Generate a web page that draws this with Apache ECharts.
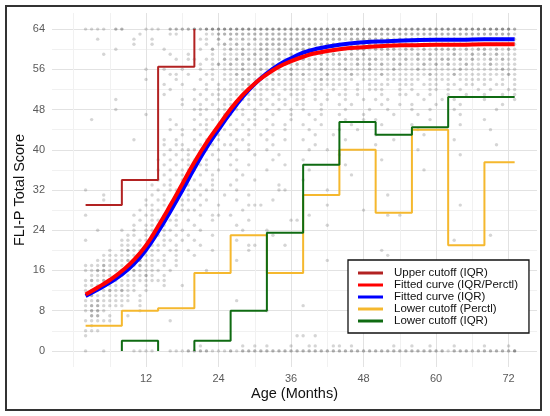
<!DOCTYPE html>
<html>
<head>
<meta charset="utf-8">
<title>FLI-P Total Score by age</title>
<script src="https://cdn.jsdelivr.net/npm/echarts@6/dist/echarts.min.js"></script>
<style>
	html, body { margin: 0; padding: 0; background: #fff; }
	#chart { width: 550px; height: 416px; }
</style>
</head>
<body>
<div id="chart"></div>
<script>
// axis ticks
var xTicks = [12, 24, 36, 48, 60, 72];
var xGrid = [0, 6, 12, 18, 24, 30, 36, 42, 48, 54, 60, 66, 72];
var yTicks = [0, 8, 16, 24, 32, 40, 48, 56, 64];
var yGrid = [0, 4, 8, 12, 16, 20, 24, 28, 32, 36, 40, 44, 48, 52, 56, 60, 64];

// cutoff bins (months), one value per bin, null = out of range
var binEdges = [2, 8, 14, 20, 26, 32, 38, 44, 50, 56, 62, 68, 73];
var upperIQR = [29, 34, 56.5, null, null, null, null, null, null, null, null, null];
var lowerPerctl = [5, 8, 8.5, 15.5, 23, 15.5, 31, 40, 27.5, 44, 21, 37.5];
var lowerIQR = [null, 2, null, 2, 8, 23.5, 37, 45.5, 43, 44.5, 50.5, 50.5];

// fitted curves
var fitAges = [2, 4, 6, 8, 10, 12, 14, 16, 18, 20, 22, 24, 26, 28, 30, 32, 34, 36, 38, 40, 44, 48, 52, 56, 60, 64, 68, 73];
var fitBoth = [11.2, 12.6, 14.1, 15.9, 18.1, 21.0, 24.8, 28.9, 33.2, 37.5, 41.4, 44.8, 48.1, 50.9, 53.2, 55.0, 56.5, 57.6, 58.5, 59.2, 60.0, 60.4, 60.7, 60.8, 60.9, 60.9, 61.0, 61.0];
var fitIQR = [10.9, 12.2, 13.6, 15.2, 17.3, 20.1, 23.7, 27.7, 31.9, 36.3, 40.4, 44.0, 47.4, 50.5, 53.1, 55.2, 56.9, 58.2, 59.3, 60.0, 60.9, 61.4, 61.6, 61.8, 61.9, 61.9, 62.0, 62.0];

// observed scores: one row per score (64 down to 0), one column per month from 2 to 73
// digit = how many children overlap on that spot
var ageStart = 2;
var scoreRows = [
	'1111.2 2...11 1.2222 323333 333333 333333 333333 333333 333333 333333 333333 333332',
	'...... ...1.. ..11.. ..1122 222222 222222 222222 222222 222222 222222 222222 222221',
	'..1... ..1..1 ...... .11.2. 212121 222222 222222 212222 222122 222222 221222 222221',
	'...... ..1..1 ...... ..1.12 121212 222212 222222 222222 212222 221222 222222 122221',
	'.....1 ...... .1.... .1.2.1 212112 212122 222212 212221 222212 212122 221212 212121',
	'...1.. ...... ..1..1 ...1.1 112121 212121 121212 212121 112121 121211 121121 212111',
	'...... ...... ...1.1 1.11.2 121212 212121 212121 121212 211212 121212 212121 121211',
	'...... ...... ...... .1.121 212121 121212 121211 211212 121121 112121 211211 121111',
	'...... ....1. .1..1. .1.1.1 112112 121121 111211 121112 111211 121111 112111 111211',
	'...... ...... ..11.1 ..11.1 121211 112121 211121 112111 121111 111211 121111 111121',
	'...... ....1. ...1.. .1.1.1 112111 121111 111211 111.11 1.1111 11.111 1.1111 11.1.1',
	'...... ...... .1..1. ..1.1. 111211 111111 1.1111 11.1.1 111.11 1.111. 11.11. 1.11.1',
	'...... ...... ..1... 1.1.11 111111 11.111 1.11.1 .1.1.1 11..1. 1..11. 1.1..1 .1..11',
	'...... ...... .1.... .1.11. 11.111 .11.11 1.1.1. 11.1.. .1..11 .1.1.. 1..1.. 1..1.1',
	'.....1 ...... ....1. 1.1.11 1.1111 1.11.1 1.1.1. .1..1. 1.1... ..1..1 .1.... 1....1',
	'...... ...... ....1. .1.1.1 11.1.1 .1.1.1 1..1.. 1.1... .1..1. 1...1. ..1... ...1..',
	'.....1 ...... ...... 111.11 .11.1. 1.1.1. 1..1.. .1...1 ..1... 1..1.. .1.... ..1...',
	'...... ....1. ...... .1..11 1.1.1. .1..1. .1.1.. 1...1. ...1.. .1.... ..1... ......',
	'.1.... ...... ..1... 1.11.1 .1.11. 1...1. ..1... .1..1. 1..... ...1.. ...... 1.....',
	'...... ...... ...1.. .11.1. 1.1.1. .1.1.. 1..1.. ..1... .1.... 1..... ..1... ......',
	'...... ...... ..1.1. 1.1.11 .1.1.. 1..1.. .1.... 1..1.. ...... .1.... ...... .1....',
	'...... ...... ....1. .1.11. 1..1.1 .1.... ..1..1 ...... 1..... ..1... ...... ......',
	'...... ..1... .1.1.. 1.1.1. .11... 1..1.. 1..... .1.... ...1.. ...... .1.... ......',
	'...... ...... .1.11. .1.1.1 1..1.. .1.... ..1... ...... 1..... ...... ...... ..1...',
	'...... ...... ..1.11 1.1.1. .1.1.. 1..... .1..1. ...... ...... .1.... ...... ......',
	'...... ...... .1.1.1 .1.1.. 1...1. ..1... ...... 1..... ...... ...... ..1... ......',
	'...... ...... 1.1.11 1.1.1. .1.... .1.... 1..... ...... .1.... ...... ...... ......',
	'...... ...... .1.1.1 .11... 1..1.. ...1.. ...... .1.... ...... ...... ...... ......',
	'...... ...... 1.1.11 1.1.1. .1.... 1..... .1.... ...... ...... ..1... ...... ......',
	'...... ...... .1.111 .1.1.. ..1... ...... ...... ..1... ...... ...... ...... ......',
	'...... ...... 1.1.1. 1..1.. .1..1. ...... 1..... ...... ...... ...... ...... ......',
	'...... .....1 .11.11 .1.1.. 1..... ..1... ...... ...... ...... ...... ...... ......',
	'1..... ...... 1.1111 1.11.. .1.... ..11.. ....1. ...... ...... ...... ...... ......',
	'...1.. .....1 .1.1.1 .1...1 ...1.. ...... ...... ...... ..1... ...... ...... ......',
	'...1.. ....1. 11.111 1.1... .1.... .1.... ...... ...... ...... ...... ...... ......',
	'...... ....11 .11.1. .1..1. ...111 ...... ....1. ...... ...... ...... ..1... ......',
	'...... ...1.1 1.1.11 1..... ..1... ...... ...... ....1. ...... ...... ...... ......',
	'1..... ..1.11 .1.1.. .1.11. 1..... ...... .1.... ...... ..1.1. ...... ...... ......',
	'...... ...1.1 1.11.1 ...1.. ...1.. ....11 ...... ...... ...... ...... ...... ......',
	'...... ..1.11 11.1.. 1..... .1.... ...... ....1. ...... ...... ...... ...... ......',
	'..1... 1.1.11 .11.1. .1.... ..1... 1..... ...... ...... ...... ...... ...... ......',
	'...... .11.11 11.1.1 ...1.. ...... .1.... ...... ...... ...... ...... ...... .1....',
	'1..... 11.111 .11.1. 1..... .1.... ...... ...... ...... ...... ...... .1.... ......',
	'...... 111111 11.1.. .1.... ...11. ...1.. ...... ...... ...... ...... ...... ......',
	'....1. 121111 1.11.1 ...1.. ...1.. ...... ...... ...... .1.... ...... ...... ......',
	'...111 111111 .1.1.. 1..... ...... ...... ...... ...... ..1... ...... ...... ......',
	'..1111 121211 11.1.. ...... .1.... ...... ....1. ...... ...... ...... ...... ......',
	'111211 111211 .1.1.. ...... ...... ...... ...... ...... ...... ...... ...... ......',
	'112211 212111 1.1... ..1... ...... ...... ...... ...... ...... ...... ...... ......',
	'.11111 111121 .1.... ...... ...... ...... ...... ...... ...... ...... ...... ......',
	'121211 111111 11.... ...... ...... ...... ...... ...... ...... ...... ...... ......',
	'111111 111.1. .1..1. ...... ...... ...... ...... ...... ...... ...... ...... ......',
	'121121 211.1. ...... ...... ...... ...... ...... ...... ...... ...... ...... ......',
	'.21111 11.1.. ...... ...... ...... ...... ...... ...... ...... ...... ...... ......',
	'112111 11.1.. ...... ...... .1.... ...... ...... ...... ...... ...... ...... ......',
	'122111 1..1.. ...... ...... ...... ...... 1..... ...... ...... ...... ...... ......',
	'1221.. ...1.. ...... ...... ...... 1..... ...... ...... ...... ...... ...... ......',
	'.22.1. .1.... ...... ...... ...... ...... ...... ...... ...... ...... ...... ......',
	'11111. ...... ..1... ...... ...... ...... ...... ...... ...... ...... ...... ......',
	'.1.... ...... ...... ...... ...... ...... ...... ...... ...... ...... ...... ......',
	'111... ...... ...... ...... ...... ...... ...... ...... ...... ...... ...... ......',
	'1..... ...... ...... ...... ...... .....1 1.1... ...... ...... ...... ...... ......',
	'...... ...... ...... ...... ...... ...... ...... ...... ...... ...... ...... ......',
	'...... ...... ...... .1.... ..1.1. 1...1. .11..1 1.1... ...1.. 1..1.. .1.... 1...1.',
	'1..1.. ..1111 ..1112 222111 212222 222222 222222 222222 222222 222222 122222 222223'
];

var FONT = 'Liberation Sans, Arial, Helvetica, sans-serif';

function buildPoints(rows, topScore, firstAge) {
	var pts = [];
	rows.forEach(function (row, r) {
		var cells = row.replace(/ /g, '');
		for (var i = 0; i < cells.length; i++) {
			var n = parseInt(cells[i], 10);
			if (n > 0) {
				pts.push([firstAge + i, topScore - r, n]);
			}
		}
	});
	return pts;
}

// turn per-bin values into a stepped path; missing bins drop to clampVal and break
function stepPath(edges, vals, clampVal) {
	var pts = [];
	for (var i = 0; i < vals.length; i++) {
		var v = vals[i];
		var prev = i > 0 ? vals[i - 1] : null;
		if (v === null) {
			if (prev !== null) {
				pts.push([edges[i], clampVal]);
				pts.push([edges[i], '-']);
			}
			continue;
		}
		if (i > 0 && prev === null) {
			pts.push([edges[i], clampVal]);
		}
		pts.push([edges[i], v]);
		pts.push([edges[i + 1], v]);
	}
	return pts;
}

function pairs(xs, ys) {
	return xs.map(function (x, i) {
		return [x, ys[i]];
	});
}

var xGridColors = xGrid.map(function (v) {
	return xTicks.indexOf(v) > -1 ? '#e2e2e2' : '#f1f1f1';
});
var yGridColors = yGrid.map(function (v) {
	return yTicks.indexOf(v) > -1 ? '#e2e2e2' : '#f1f1f1';
});

var myChart = echarts.init(document.getElementById('chart'));

var option = {
	backgroundColor: '#fff',
	animation: false,
	grid: {
		left: 52,
		right: 13,
		top: 13,
		bottom: 49
	},
	graphic: [{
		type: 'rect',
		silent: true,
		z: 100,
		shape: { x: 6, y: 6, width: 535, height: 404 },
		style: { fill: null, stroke: '#333', lineWidth: 2 }
	}],
	legend: {
		orient: 'vertical',
		left: 348,
		top: 260,
		padding: [7, 11, 6, 10],
		itemGap: 0,
		itemWidth: 25,
		itemHeight: 3,
		icon: 'rect',
		backgroundColor: '#fff',
		borderColor: '#111',
		borderWidth: 1.3,
		textStyle: {
			fontFamily: FONT,
			fontSize: 11.5,
			lineHeight: 11.7,
			color: '#111',
			padding: [0, 0, 0, 6]
		},
		data: ['Upper cutoff (IQR)', 'Fitted curve (IQR/Perctl)', 'Fitted curve (IQR)', 'Lower cutoff (Perctl)', 'Lower cutoff (IQR)']
	},
	xAxis: {
		type: 'value',
		min: -3.56,
		max: 76.7,
		name: 'Age (Months)',
		nameLocation: 'middle',
		nameGap: 19,
		nameMoveOverlap: false,
		nameTextStyle: { fontFamily: FONT, fontSize: 14.5, color: '#111' },
		axisLine: { show: false },
		axisTick: { show: false, customValues: xGrid },
		axisLabel: { customValues: xTicks, margin: 6, fontFamily: FONT, fontSize: 11, color: '#5a5a5a' },
		splitLine: { show: true, lineStyle: { color: xGridColors, width: 1 } }
	},
	yAxis: {
		type: 'value',
		min: -3.2,
		max: 67.2,
		name: 'FLI-P Total Score',
		nameLocation: 'middle',
		nameGap: 25,
		nameMoveOverlap: false,
		nameTextStyle: { fontFamily: FONT, fontSize: 14.5, color: '#111' },
		axisLine: { show: false },
		axisTick: { show: false, customValues: yGrid },
		axisLabel: { customValues: yTicks, margin: 7, fontFamily: FONT, fontSize: 11, color: '#5a5a5a' },
		splitLine: { show: true, lineStyle: { color: yGridColors, width: 1 } }
	},
	series: [
		{
			name: 'points',
			type: 'scatter',
			silent: true,
			symbolSize: 3.4,
			z: 1,
			itemStyle: {
				color: function (p) {
					var a = [0, 0.26, 0.48, 0.68][p.data[2]];
					return 'rgba(55,55,55,' + a + ')';
				}
			},
			data: buildPoints(scoreRows, 64, ageStart)
		},
		{
			name: 'Upper cutoff (IQR)',
			type: 'line',
			symbol: 'none',
			z: 3,
			color: '#b22222',
			lineStyle: { width: 2, color: '#b22222' },
			data: stepPath(binEdges, upperIQR, 64)
		},
		{
			name: 'Lower cutoff (Perctl)',
			type: 'line',
			symbol: 'none',
			z: 3,
			color: '#f5b82e',
			lineStyle: { width: 2, color: '#f5b82e' },
			data: stepPath(binEdges, lowerPerctl, 0)
		},
		{
			name: 'Lower cutoff (IQR)',
			type: 'line',
			symbol: 'none',
			z: 3,
			color: '#0f6b12',
			lineStyle: { width: 2, color: '#0f6b12' },
			data: stepPath(binEdges, lowerIQR, 0)
		},
		{
			name: 'Fitted curve (IQR)',
			type: 'line',
			symbol: 'none',
			smooth: true,
			z: 4,
			color: '#0000ff',
			lineStyle: { width: 4, color: '#0000ff' },
			data: pairs(fitAges, fitIQR)
		},
		{
			name: 'Fitted curve (IQR/Perctl)',
			type: 'line',
			symbol: 'none',
			smooth: true,
			z: 5,
			color: '#ff0000',
			lineStyle: { width: 4, color: '#ff0000' },
			data: pairs(fitAges, fitBoth)
		}
	]
};

myChart.setOption(option);
</script>
</body>
</html>
